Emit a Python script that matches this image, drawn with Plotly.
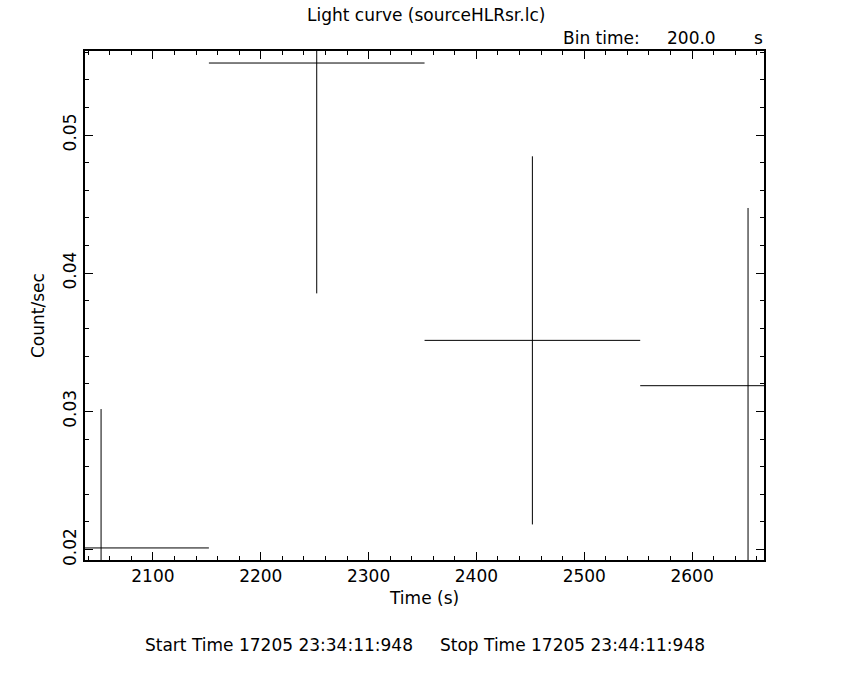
import plotly.graph_objects as go

# Data
time_s = [2051.9, 2251.9, 2451.9, 2651.9]
half_bin = [100.0, 100.0, 100.0, 100.0]
rate = [0.02012, 0.05521, 0.03514, 0.03186]
rate_err = [0.01005, 0.01667, 0.01332, 0.01286]

x_range = [2037.0, 2666.7]
y_range = [0.019247, 0.05608]

title_text = "Light curve (sourceHLRsr.lc)"
bin_label = "Bin time:"
bin_value = "200.0"
bin_unit = "s"
x_title = "Time (s)"
y_title = "Count/sec"
bottom_text = "Start Time 17205 23:34:11:948     Stop Time 17205 23:44:11:948"

FONT = "DejaVu Sans"
FS = 17

# plot frame in reference pixels
L, T, PW, PH = 85, 51, 679, 509
W, H = 850, 680
ml, mt = L, T
mr = W - ml - PW
mb = H - mt - PH

fig = go.Figure()
fig.add_trace(go.Scatter(
    x=time_s, y=rate, mode="markers",
    marker=dict(size=1, color="black", opacity=0),
    error_x=dict(type="data", array=half_bin, symmetric=True, width=0, thickness=1, color="black"),
    error_y=dict(type="data", array=rate_err, symmetric=True, width=0, thickness=1, color="black"),
    showlegend=False, hoverinfo="skip",
))

axis_common = dict(
    showline=True, linecolor="black", linewidth=1.5, mirror="allticks",
    ticks="inside", ticklen=8, tickwidth=1, tickcolor="black",
    showgrid=False, zeroline=False,
    tickfont=dict(family=FONT, size=FS, color="black"),
)

fig.update_xaxes(
    range=x_range, tick0=2000, dtick=100,
    minor=dict(ticks="inside", ticklen=4, dtick=20, tick0=2000, tickcolor="black", tickwidth=1, showgrid=False),
    **axis_common,
)
fig.update_yaxes(
    range=y_range, tick0=0.0, dtick=0.01, tickformat=".2f", tickangle=-90,
    minor=dict(ticks="inside", ticklen=4, dtick=0.002, tick0=0.0, tickcolor="black", tickwidth=1, showgrid=False),
    **axis_common,
)

ann_font = dict(family=FONT, size=FS, color="black")


def ann(text, px, py, xanchor="center", angle=0):
    # px, py are reference-image pixel coordinates
    return dict(
        text=text, showarrow=False, font=ann_font, textangle=angle,
        xref="paper", yref="paper",
        x=(px - L) / PW, y=(T + PH - py) / PH,
        xanchor=xanchor, yanchor="middle",
    )


fig.update_layout(
    width=W, height=H,
    margin=dict(l=ml, r=mr, t=mt, b=mb),
    paper_bgcolor="white", plot_bgcolor="white",
    annotations=[
        ann(title_text, 426, 15),
        ann(bin_label, 561, 38, "left"),
        ann(bin_value, 691, 38),
        ann(bin_unit, 765, 38, "right"),
        ann(x_title, 424, 598),
        ann(y_title, 38, 316, angle=-90),
        ann(bottom_text, 425, 645),
    ],
)

fig.write_html(
    "out.html",
    config={"displayModeBar": False},
    post_script="document.body.style.margin='0';document.body.style.overflow='hidden';",
)
